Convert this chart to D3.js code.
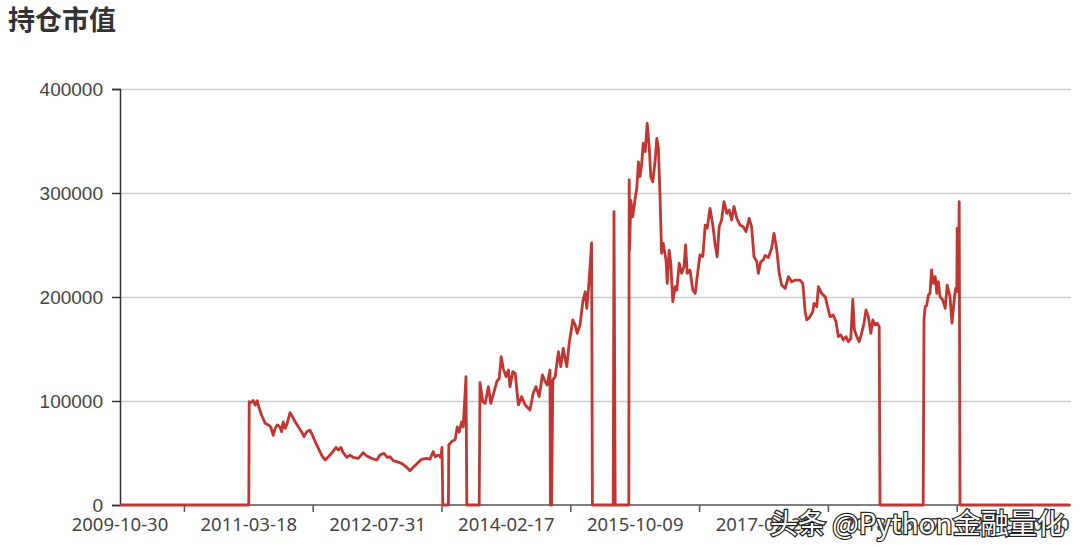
<!DOCTYPE html>
<html>
<head>
<meta charset="utf-8">
<script src="https://cdn.jsdelivr.net/npm/d3@7"></script>
<style>
  body { margin: 0; background: #fff; }
  svg { display: block; font-family: "Noto Sans", "Open Sans", sans-serif; }
</style>
</head>
<body>
<svg id="chart" width="1080" height="547"></svg>
<script>
// x labels on the category axis (every 322 trading days)
const tickDates = ['2009-10-30', '2011-03-18', '2012-07-31', '2014-02-17',
    '2015-10-09', '2017-02-22', '2018-06-27', '2019-10-30']
const tickEvery = 322
const lastDay = 2375

const yTicks = [0, 100000, 200000, 300000, 400000]

// trading-day index of each sampled point
const days = [0, 322, 323, 327, 333, 338, 343, 348, 354, 363, 371, 377, 383, 388, 393, 400, 404, 408, 413, 418,
    425, 431, 438, 446, 454, 460, 467, 475, 481, 488, 496, 504, 513, 521, 529, 540, 546, 552, 558, 567,
    575, 583, 596, 608, 617, 629, 642, 650, 660, 668, 675, 683, 692, 704, 717, 725, 733, 743, 754, 767,
    775, 783, 788, 796, 802, 805, 807, 821, 822, 829, 838, 843, 848, 854, 858, 865, 867, 898, 900, 907,
    913, 921, 927, 933, 942, 948, 953, 958, 965, 971, 975, 982, 988, 996, 1004, 1013, 1025, 1033, 1040, 1048,
    1056, 1063, 1068, 1075, 1076, 1079, 1082, 1088, 1096, 1102, 1108, 1117, 1123, 1132, 1138, 1143, 1150, 1157, 1163, 1167,
    1173, 1179, 1181, 1233, 1235, 1238, 1272, 1273, 1274, 1277, 1282, 1288, 1292, 1296, 1300, 1304, 1308, 1313, 1318, 1323,
    1327, 1332, 1338, 1342, 1346, 1350, 1354, 1358, 1365, 1368, 1373, 1377, 1382, 1388, 1392, 1398, 1404, 1410, 1414, 1418,
    1425, 1432, 1438, 1443, 1450, 1457, 1463, 1468, 1475, 1482, 1488, 1493, 1498, 1504, 1510, 1517, 1523, 1529, 1535, 1542,
    1550, 1558, 1565, 1573, 1579, 1585, 1592, 1596, 1602, 1608, 1613, 1621, 1629, 1635, 1642, 1648, 1654, 1663, 1671, 1679,
    1688, 1700, 1707, 1713, 1717, 1725, 1732, 1735, 1742, 1746, 1754, 1763, 1768, 1775, 1783, 1790, 1796, 1802, 1808, 1815,
    1821, 1827, 1832, 1836, 1842, 1848, 1854, 1860, 1865, 1871, 1877, 1882, 1888, 1893, 1898, 1900, 2008, 2010, 2013, 2017,
    2021, 2025, 2029, 2033, 2038, 2042, 2046, 2050, 2057, 2063, 2068, 2075, 2080, 2085, 2089, 2092, 2093, 2097, 2098, 2100,
    2375]

// 持仓市值 at each sampled day
const values = [0, 0, 99300, 98400, 100500, 96000, 100300, 93000, 86500, 78500, 77000, 75000, 67000, 73700, 77000, 75000, 70500, 80000, 73700, 78500,
    88800, 85000, 80000, 75000, 70500, 65700, 70500, 72000, 67300, 61000, 54500, 48000, 43300, 46400, 49700, 55400, 52900, 55400, 50300, 45800,
    48000, 45800, 44900, 50300, 47100, 44900, 43300, 48000, 49700, 45800, 46400, 42600, 41700, 40000, 36200, 32900, 36200, 40000, 43900, 44900,
    44000, 51300, 46400, 48000, 45800, 55400, 0, 0, 57700, 61000, 63000, 75000, 70000, 80000, 75000, 123400, 0, 0, 117600, 99300,
    97800, 113800, 97800, 105800, 118600, 121800, 142600, 131400, 123400, 129800, 113800, 128200, 126600, 96200, 104200, 96200, 91300, 107400, 113800, 104200,
    125000, 118600, 115400, 129800, 0, 0, 120200, 123400, 147400, 133000, 150600, 133000, 155400, 177900, 173000, 165000, 173000, 195500, 205000, 189000,
    216300, 252000, 0, 0, 282000, 0, 0, 312500, 245000, 293000, 277000, 294900, 304500, 330000, 315700, 326900, 347800, 339700, 367000, 344600,
    315700, 310900, 331700, 352600, 343000, 298000, 242000, 251600, 235600, 213100, 245000, 232400, 195500, 209900, 206700, 232400, 222800, 229200, 250000, 222800,
    226000, 206700, 203500, 219600, 240400, 238800, 269200, 266000, 285300, 269200, 250000, 238800, 267600, 274000, 291700, 280400, 283700, 274000, 287000, 275600,
    269200, 267600, 262800, 275600, 267600, 238800, 234000, 222800, 234000, 235600, 240000, 238000, 246800, 261200, 245000, 222800, 211500, 208300, 219600, 214700,
    216300, 216300, 213100, 185900, 177900, 181000, 185900, 193900, 190700, 209900, 203500, 200300, 192300, 181000, 182700, 176300, 161900, 163500, 158700, 161900,
    157100, 160000, 197800, 168300, 161900, 157100, 165000, 174800, 187500, 181000, 165000, 177900, 173000, 174800, 171500, 0, 0, 177900, 190700, 192000,
    201900, 203500, 226000, 213100, 219600, 203500, 214700, 200300, 197100, 189000, 211500, 200300, 174800, 195500, 208300, 205000, 266000, 248400, 291700, 0,
    0]

const svg = d3.select('#chart')
const margin = {left: 120, right: 10, top: 89, bottom: 42}
const width = 1080, height = 547

const x = d3.scaleLinear()
    .domain([0, lastDay])
    .range([margin.left, width - margin.right])

const y = d3.scaleLinear()
    .domain([0, 400000])
    .range([height - margin.bottom, margin.top])

// title
svg.append('text')
    .attr('x', 8)
    .attr('y', 30)
    .style('font-family', '"Noto Sans CJK SC", sans-serif')
    .style('font-size', '27px')
    .style('font-weight', 'bold')
    .attr('fill', '#333')
    .text('持仓市值')

// grid lines
svg.append('g')
    .selectAll('line')
    .data(yTicks.filter(d => d > 0))
    .join('line')
    .attr('x1', x(0))
    .attr('x2', x(lastDay) + 1)
    .attr('y1', d => Math.round(y(d)) + 0.5)
    .attr('y2', d => Math.round(y(d)) + 0.5)
    .attr('stroke', '#ccc')
    .attr('stroke-width', 1.5)

// y axis
const yAxis = svg.append('g')
    .attr('transform', `translate(${x(0)},0)`)
    .call(d3.axisLeft(y).tickValues(yTicks).tickSize(8).tickPadding(9).tickFormat(d3.format('d')))
yAxis.select('.domain').attr('stroke', '#333').attr('stroke-width', 1.5)
yAxis.selectAll('.tick line').attr('stroke', '#333').attr('stroke-width', 1.5)
yAxis.selectAll('.tick text')
    .attr('fill', '#444')
    .style('font-size', '19px')

// x axis: ticks sit between the labels
const labelDays = tickDates.map((d, i) => i * tickEvery)
const tickDays = labelDays.map(d => d + tickEvery / 2).filter(d => d < lastDay)

const xAxis = svg.append('g')
    .attr('transform', `translate(0,${y(0)})`)
xAxis.append('line')
    .attr('x1', x(0))
    .attr('x2', x(lastDay) + 1)
    .attr('stroke', '#555')
    .attr('stroke-width', 1.5)
xAxis.selectAll('.xtick')
    .data(tickDays)
    .join('line')
    .attr('class', 'xtick')
    .attr('x1', d => x(d))
    .attr('x2', d => x(d))
    .attr('y1', 0)
    .attr('y2', 7)
    .attr('stroke', '#555')
    .attr('stroke-width', 1.5)
xAxis.selectAll('.xlabel')
    .data(tickDates)
    .join('text')
    .attr('class', 'xlabel')
    .attr('x', (d, i) => x(labelDays[i]))
    .attr('y', 26)
    .attr('text-anchor', 'middle')
    .attr('fill', '#444')
    .style('font-size', '18.5px')
    .text(d => d)

// the series
const points = days.map((d, i) => [d, values[i]])
const line = d3.line()
    .x(d => x(d[0]))
    .y(d => y(d[1]))

svg.append('path')
    .datum(points)
    .attr('d', line)
    .attr('fill', 'none')
    .attr('stroke', '#c23531')
    .attr('stroke-width', 2.8)
    .attr('stroke-linejoin', 'round')

// watermark
svg.append('text')
    .attr('x', 770)
    .attr('y', 534)
    .style('font-family', '"Noto Sans CJK SC", sans-serif')
    .style('font-size', '28px')
    .attr('fill', '#fff')
    .attr('stroke', '#222')
    .attr('stroke-width', 2.5)
    .style('paint-order', 'stroke')
    .text('头条 @Python金融量化')
</script>
</body>
</html>
